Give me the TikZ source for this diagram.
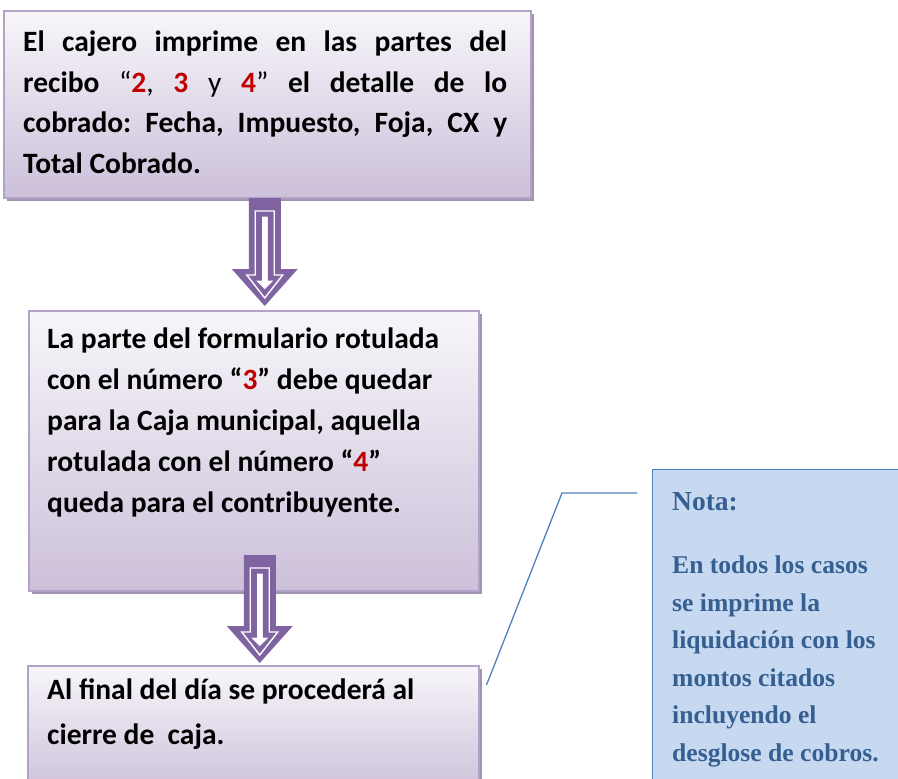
\documentclass[tikz,border=0pt]{standalone}
\usepackage{fontspec}
\setmainfont{Carlito}
\newfontfamily\notafont{Liberation Serif}
\usetikzlibrary{shadows,calc,positioning}
\definecolor{boxline}{RGB}{179,162,199}
\definecolor{boxfill}{RGB}{204,192,218}
\definecolor{boxshadow}{RGB}{160,148,176}
\definecolor{arrowfill}{RGB}{128,100,162}
\definecolor{numred}{RGB}{192,0,0}
\definecolor{notefill}{RGB}{198,217,241}
\definecolor{noteline}{RGB}{79,129,189}
\definecolor{notetext}{RGB}{54,95,145}
\newcommand{\rnum}[1]{\textcolor{numred}{#1}}
\frenchspacing

\tikzset{
  down arrow/.pic={
    \fill[arrowfill] (-16,-108) -- (-16,-37) -- (-33,-37) -- (0,0) -- (33,-37) -- (16,-37) -- (16,-108) -- cycle;
    \draw[white,line width=1.4pt,fill=arrowfill] (-9.5,-95) -- (-9.5,-31) -- (-18,-31) -- (0,-8) -- (18,-31) -- (9.5,-31) -- (9.5,-95) -- cycle;
    \draw[arrowfill,line width=1pt,fill=white] (-3.5,-90) -- (-3.5,-26) -- (-10,-26) -- (0,-16) -- (10,-26) -- (3.5,-26) -- (3.5,-90) -- cycle;
  }
}

\begin{document}
\begin{tikzpicture}[x=1pt,y=-1pt,
  main box/.style={rectangle,anchor=north west,inner sep=0pt,draw=boxline,line width=1.5pt,
    top color=boxfill!15,middle color=white,bottom color=boxfill,
    drop shadow={shadow xshift=3pt,shadow yshift=-3pt,fill=boxshadow,opacity=1}},
  box text/.style={anchor=west,inner sep=0pt,align=left,font=\bfseries\fontsize{29.5}{41}\selectfont},
  note text/.style={anchor=west,inner sep=0pt,align=left,text=notetext}]

  \useasboundingbox (0,0) rectangle (898,779);

  % boxes
  \node[main box,minimum width=527pt,minimum height=187pt] (b1) at (3,10) {};
  \node[main box,minimum width=450pt,minimum height=280pt] (b2) at (28,310) {};
  \begin{scope}
    \clip (0,0) rectangle (898,779);
    \node[main box,minimum width=451pt,minimum height=130pt] (b3) at (27,665) {};
    \node[rectangle,anchor=north west,draw=noteline,line width=1.2pt,fill=notefill,
      minimum width=260pt,minimum height=330pt] (note) at (652,469) {};
  \end{scope}

  % texts
  \node[box text,text width=484pt,align=justify,font=\bfseries\fontsize{29.5}{40.5}\selectfont] (t1) at (23,102.5)
    {\hyphenpenalty=10000 El cajero imprime en las partes del\linebreak recibo \textmd{``}\rnum{2}\textmd{,} \rnum{3} \textmd{y} \rnum{4}\textmd{''} el detalle de lo\linebreak cobrado: Fecha, Impuesto, Foja, CX y\linebreak Total Cobrado.};
  \node[box text] (t2) at (47,422)
    {La parte del formulario rotulada\\con el número ``\rnum{3}'' debe quedar\\para la Caja municipal, aquella\\rotulada con el número ``\rnum{4}''\\queda para el contribuyente.};
  \node[box text,font=\bfseries\fontsize{29.5}{45}\selectfont] (t3) at (47,714.5)
    {Al final del día se procederá al\\cierre de~ caja.};
  \node[note text,font=\notafont\bfseries\fontsize{27.5}{30}\selectfont] (nota) at (672,502) {Nota:};
  \node[note text,font=\notafont\bfseries\fontsize{25.6}{37.5}\selectfont] (nbody) at (672,661.5)
    {En todos los casos\\se imprime la\\liquidación con los\\montos citados\\incluyendo el\\desglose de cobros.};

  % arrows
  \pic at ($(b2.north)+(11,-4)$) {down arrow};
  \pic at ($(b3.north)+(6.5,-2)$) {down arrow};

  % callout
  \coordinate (c1) at ($(note.north west)+(-15,24)$);
  \coordinate (c2) at (562,493);
  \coordinate (c3) at ($(b3.north east)+(7,20)$);
  \draw[noteline,line width=1.3pt] (c1) -- (c2) -- (c3);
\end{tikzpicture}
\end{document}
